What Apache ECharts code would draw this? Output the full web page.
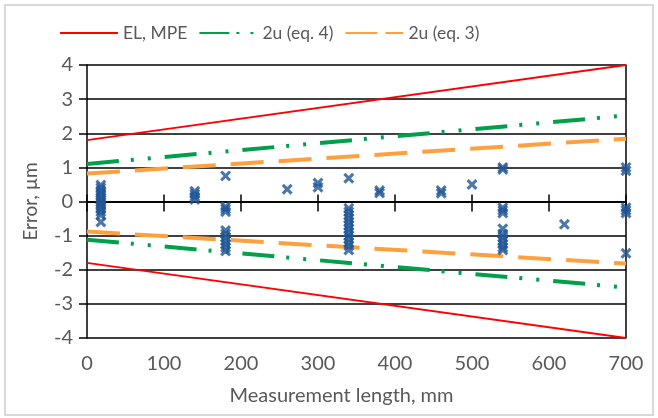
<!DOCTYPE html>
<html><head><meta charset="utf-8">
<script src="https://cdn.jsdelivr.net/npm/echarts@6/dist/echarts.min.js"></script>
<style>html,body{margin:0;padding:0;background:#fff}#c{width:658px;height:418px}</style>
</head><body><div id="c"></div>
<script>
// ---- data ----
const lineLengths = [0, 700];
const mpeUpper = [1.8, 4.0];
const mpeLower = [-1.8, -4.0];
const u4Upper = [1.1, 2.52];
const u4Lower = [-1.12, -2.52];
const u3Upper = [0.82, 1.84];
const u3Lower = [-0.88, -1.82];
const pointLengths = [18, 140, 180, 260, 300, 340, 380, 460, 500, 540, 620, 700];
const pointErrors = [
  [0.48, 0.4, 0.32, 0.25, 0.18, 0.1, 0.04, -0.02, -0.08, -0.15, -0.22, -0.3, -0.4, -0.6],
  [0.3, 0.22, 0.14, 0.06],
  [0.75, -0.15, -0.22, -0.3, -0.85, -0.95, -1.05, -1.15, -1.25, -1.35, -1.45],
  [0.36],
  [0.54, 0.42],
  [0.68, -0.2, -0.3, -0.4, -0.5, -0.6, -0.7, -0.8, -0.9, -1.0, -1.1, -1.2, -1.3, -1.42],
  [0.32, 0.25],
  [0.32, 0.24],
  [0.5],
  [1.0, 0.94, -0.18, -0.26, -0.34, -0.8, -0.95, -1.05, -1.15, -1.25, -1.35, -1.42],
  [-0.67],
  [1.0, 0.9, -0.18, -0.26, -0.34, -1.52]
];
const seriesNames = ['EL, MPE', '2u (eq. 4)', '2u (eq. 3)'];
const xRange = [0, 700, 100];
const yRange = [-4, 4, 1];

// ---- build ----
const zip = (xs, ys) => xs.map((x, i) => [x, ys[i]]);
const points = [];
pointLengths.forEach((L, i) => pointErrors[i].forEach(e => points.push([L, e])));

const txt = '#595959';
const font = 'Lato';
const blk = {color: '#000', width: 1.5};
const xMark = 'path://M0,2 L2,0 L5,3 L8,0 L10,2 L7,5 L10,8 L8,10 L5,7 L2,10 L0,8 L3,5 Z';

const gridBox = {left: 87, right: 32, top: 65, bottom: 80};
const red = '#ff0000', green = '#00a04a', orange = '#ffa040';
const dashG = [32, 12, 3, 14, 3, 14];
const dashO = [33, 15];

function lineSeries(name, data, color, width, type) {
  return {
    type: 'line', name, data, xAxisIndex: 0, yAxisIndex: 0,
    symbol: 'none', silent: true, animation: false,
    itemStyle: {color},
    lineStyle: {color, width, type, cap: 'butt'}
  };
}

const option = {
  animation: false,
  textStyle: {fontFamily: font},
  graphic: [{
    type: 'rect', shape: {x: 5, y: 5, width: 648, height: 410},
    style: {fill: 'none', stroke: '#d9d9d9', lineWidth: 2}, silent: true, z: -10
  }],
  legend: {
    left: 54, top: 19, itemWidth: 58, itemHeight: 14, itemGap: 11,
    itemStyle: {opacity: 0},
    textStyle: {color: txt, fontSize: 17.5, fontFamily: font},
    data: [
      {name: seriesNames[0]},
      {name: seriesNames[1], lineStyle: {type: [30, 7, 3, 11, 3, 20]}},
      {name: seriesNames[2], lineStyle: {type: [32, 8]}}
    ]
  },
  grid: [Object.assign({}, gridBox), Object.assign({}, gridBox)],
  xAxis: [
    {gridIndex: 0, type: 'value', min: xRange[0], max: xRange[1], interval: xRange[2], position: 'bottom',
     axisLine: {show: false, onZero: false}, axisTick: {show: false}, splitLine: {show: false},
     axisLabel: {color: txt, fontSize: 20, fontFamily: font, margin: 16},
     name: 'Measurement length, mm', nameLocation: 'middle', nameGap: 48,
     nameTextStyle: {color: txt, fontSize: 20, fontFamily: font, padding: [0, 30, 0, 0]}},
    {gridIndex: 0, type: 'value', min: xRange[0], max: xRange[1], interval: xRange[2], position: 'top',
     axisLine: {show: true, onZero: true, lineStyle: blk}, axisTick: {show: true, length: 7, lineStyle: blk},
     axisLabel: {show: false}, splitLine: {show: false}},
    {gridIndex: 1, type: 'value', min: xRange[0], max: xRange[1], interval: xRange[2], position: 'bottom',
     axisLine: {show: true, onZero: true, lineStyle: blk}, axisTick: {show: true, length: 10, lineStyle: blk},
     axisLabel: {show: false}, splitLine: {show: false}}
  ],
  yAxis: [
    {gridIndex: 0, type: 'value', min: yRange[0], max: yRange[1], interval: yRange[2], position: 'left',
     axisLine: {show: true, onZero: false, lineStyle: blk}, axisTick: {show: true, length: 8, lineStyle: blk},
     axisLabel: {color: txt, fontSize: 20, fontFamily: font, margin: 14},
     splitLine: {show: true, lineStyle: blk},
     name: 'Error, µm', nameLocation: 'middle', nameGap: 47, nameRotate: 90,
     nameTextStyle: {color: txt, fontSize: 19, fontFamily: font}},
    {gridIndex: 0, type: 'value', min: yRange[0], max: yRange[1], interval: yRange[2], position: 'right',
     axisLine: {show: true, onZero: false, lineStyle: blk}, axisTick: {show: false},
     axisLabel: {show: false}, splitLine: {show: false}},
    {gridIndex: 1, type: 'value', min: yRange[0], max: yRange[1], interval: yRange[2], show: false}
  ],
  series: [
    lineSeries(seriesNames[0], zip(lineLengths, mpeUpper), red, 1.8, 'solid'),
    lineSeries(seriesNames[0], zip(lineLengths, mpeLower), red, 1.8, 'solid'),
    lineSeries(seriesNames[1], zip(lineLengths, u4Upper), green, 4, dashG),
    lineSeries(seriesNames[1], zip(lineLengths, u4Lower), green, 4, dashG),
    lineSeries(seriesNames[2], zip(lineLengths, u3Upper), orange, 4, dashO),
    lineSeries(seriesNames[2], zip(lineLengths, u3Lower), orange, 4, dashO),
    {type: 'scatter', name: 'Measured', data: points, xAxisIndex: 0, yAxisIndex: 0,
     symbol: xMark, symbolSize: 11, itemStyle: {color: '#1f5596'}, silent: true, z: 5}
  ]
};
const chart = echarts.init(document.getElementById('c'), null, {renderer: 'canvas'});
chart.setOption(option);
</script></body></html>
